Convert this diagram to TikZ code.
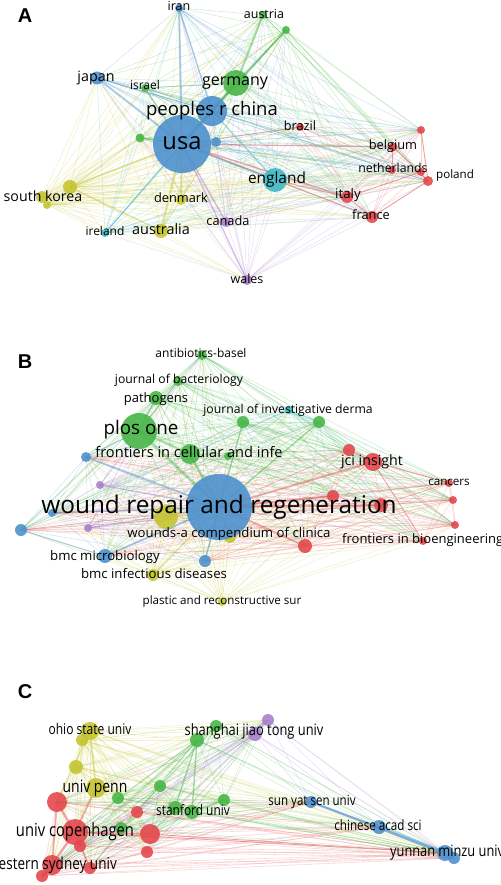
\documentclass[tikz,border=0pt]{standalone}
\usepackage{fontspec}
\setmainfont{Open Sans}
\newfontfamily\narrowfont[FakeStretch=0.82]{Open Sans}
\newfontfamily\letterfont{Liberation Sans}
\pgfdeclarelayer{links}
\pgfsetlayers{links,main}
\definecolor{vred}{RGB}{228,72,76}
\definecolor{vgreen}{RGB}{72,182,72}
\definecolor{vblue}{RGB}{78,145,205}
\definecolor{vyellow}{RGB}{196,196,48}
\definecolor{vpurple}{RGB}{168,128,205}
\definecolor{vcyan}{RGB}{62,184,198}
\newcommand{\fsz}[1]{\fontsize{#1}{#1}\selectfont}

\newcommand{\countries}{skorea/vyellow/70/187/14, skorea2/vyellow/42/197/12, skorea3/vyellow/47/205/8,
	denmark/vyellow/181/200/10, australia/vyellow/161/231/14, canada/vpurple/226/222/10, wales/vpurple/247/280/10,
	england/vcyan/275/180/24, ireland/vcyan/105/233/8, germany/vgreen/236/83/26, israel/vgreen/145/88/8,
	austria/vgreen/263/15/8, austria2/vgreen/286/30/8, gsmall/vgreen/140/138/9, usa/vblue/182/144/58,
	china/vblue/212/111/30, japan/vblue/97/78/13, iran/vblue/179/8/8, bsmall/vblue/216/142/10,
	brazil/vred/300/127/8, redtop/vred/421/130/8, belgium/vred/393/147/9, netherlands/vred/392/170/8,
	netherlands2/vred/421/172/8, poland/vred/428/181/10, italy/vred/347/197/12, france/vred/372/217/12}
\newcommand{\countrylinks}{usa/china/vblue/3, usa/japan/vblue/2, usa/iran/vblue/2, china/iran/vblue/1.5,
	usa/germany/vgreen/2.5, germany/austria/vgreen/2, germany/austria2/vgreen/2, usa/austria2/vgreen/1.5,
	china/germany/vgreen/2, usa/england/vcyan/2.5, usa/australia/vyellow/2.5, usa/skorea/vyellow/2,
	usa/denmark/vyellow/2, usa/ireland/vcyan/1.2, usa/canada/vpurple/1.5, usa/wales/vpurple/1.5,
	usa/italy/vred/1.5, usa/france/vred/1.2, usa/belgium/vred/1.2, usa/brazil/vred/1, england/italy/vred/1.2,
	italy/france/vred/1.2, belgium/netherlands/vred/1, china/england/vcyan/1.5, usa/gsmall/vgreen/1.5,
	usa/israel/vgreen/1.2, japan/china/vblue/1.2, skorea/australia/vyellow/1.5, israel/germany/vgreen/1,
	redtop/poland/vred/1, belgium/poland/vred/1, france/poland/vred/1, italy/netherlands2/vred/1}

\newcommand{\journals}{yel/vyellow/166/517/24, wcomp/vyellow/230/537/12, bmci/vyellow/153/575/12,
	plastic/vyellow/222/602/8, jpurple1/vpurple/100/485/8, jpurple2/vpurple/88/528/8, jidc/vcyan/289/410/8,
	plos/vgreen/139/431/36, fcell/vgreen/190/454/20, antib/vgreen/202/355/10,
	jbact/vgreen/178/381/10, pathog/vgreen/156/398/14, gsm/vgreen/228/456/8, jid1/vgreen/243/422/12,
	jid2/vgreen/319/422/12, jcir/vred/349/450/12, jci/vred/373/462/18, cancers/vred/449/483/8,
	jred2/vred/453/500/8, jred3/vred/455/525/8, fbio/vred/423/541/8, jred4/vred/333/496/12,
	jred5/vred/381/505/14, jred6/vred/305/546/14, wound/vblue/219/507/66, jblue1/vblue/86/457/10,
	jblue2/vblue/21/530/12, jblue3/vblue/52/513/8, bmcm/vblue/105/556/14, jblue4/vblue/205/561/12}
\newcommand{\journallinks}{wound/plos/vgreen/3, wound/fcell/vgreen/2.5, plos/fcell/vgreen/2.5,
	wound/yel/vyellow/3, wound/bmcm/vblue/2, wound/jblue1/vblue/2, wound/jblue4/vblue/1.5, wound/jci/vred/2,
	wound/jred5/vred/2, wound/jred6/vred/2, wound/jred4/vred/2, wound/wcomp/vyellow/1.5, plos/pathog/vgreen/1.5,
	plos/jbact/vgreen/1.2, wound/jid1/vgreen/1.5, wound/jid2/vgreen/1.5, wound/bmci/vyellow/1.5,
	wound/jpurple1/vpurple/1.2, wound/jpurple2/vpurple/1.2, jci/jcir/vred/1.2, wound/jblue3/vblue/1.5,
	jblue2/bmcm/vblue/1, jci/cancers/vred/0.8, jci/fbio/vred/0.8, jid2/jidc/vcyan/1, plos/jblue1/vblue/1}

\newcommand{\univs}{ohio/vyellow/90/731/18, uyel2/vyellow/82/740/12, uyel3/vyellow/76/767/14,
	penn/vyellow/96/788/20, ugrn1/vgreen/160/786/12, ugrn2/vgreen/118/798/12, ugrn3/vgreen/175/808/14,
	stanford/vgreen/192/812/14, ugrn4/vgreen/224/800/12, shanghai/vgreen/197/740/14, ugrn5/vgreen/216/726/12,
	ugrn6/vgreen/121/828/12, jiao1/vpurple/255/734/14, jiao2/vpurple/268/720/12, ured1/vred/57/802/20,
	cph/vred/75/832/26, ured2/vred/80/846/12, ured3/vred/150/834/20, ured4/vred/137/812/12, ured5/vred/147/852/12,
	wsu/vred/52/865/20, ured7/vred/42/876/12, ured8/vred/90/868/12, sun/vblue/311/802/12, cas/vblue/379/827/14,
	yun/vblue/445/853/16, yun2/vblue/454/858/12}
\newcommand{\univlinks}{cas/yun/vblue/4, sun/yun/vblue/2.5, sun/cas/vblue/2, cph/ured1/vred/2,
	cph/wsu/vred/2.5, cph/ured3/vred/2, penn/ohio/vyellow/2, penn/cph/vred/2, shanghai/stanford/vgreen/1.5,
	ured1/wsu/vred/2, ohio/ured1/vyellow/1.5, cph/ured8/vred/1.5, wsu/ured7/vred/1.5, shanghai/ugrn3/vgreen/1.5,
	stanford/ugrn4/vgreen/1.2, jiao1/jiao2/vpurple/1.5, ured3/yun/vred/0.8, cph/yun/vred/0.8}

\begin{document}
\begin{tikzpicture}[x=1pt, y=-1pt,
		item/.style 2 args={circle, fill=#1, fill opacity=0.9, inner sep=0pt, minimum size=#2pt},
		lbl/.style={inner sep=0pt, font=\fsz{#1}, text height={0.72*#1pt}, text depth={0.22*#1pt}},
		nlbl/.style={lbl=#1, font=\narrowfont\fsz{#1}},
		link/.style={line width=0.55pt, draw opacity=0.24},
		strong/.style={draw opacity=0.4},
		letter/.style={inner sep=0pt, font=\letterfont\bfseries\fsz{20}}]

	\useasboundingbox (0,0) rectangle (500,885);
	\clip (0,0) rectangle (500,885);

	\node[letter] (A) at (25,16) {A};
	\node[letter] (B) at (25,362) {B};
	\node[letter] (C) at (25,692) {C};

	\foreach \n/\c/\px/\py/\d in \countries
		\node[item={\c}{\d}] (\n) at (\px,\py) {};
	\foreach \n/\c/\px/\py/\d in \journals
		\node[item={\c}{\d}] (\n) at (\px,\py) {};
	\foreach \n/\c/\px/\py/\d in \univs
		\node[item={\c}{\d}] (\n) at (\px,\py) {};

	\begin{pgfonlayer}{links}
		\foreach \a/\ca/\xa/\ya/\da [count=\i] in \countries
			\foreach \b/\cb/\xb/\yb/\db [count=\j] in \countries
				{\ifnum\j>\i \draw[link, color=\ca] (\a.center) -- (\b.center); \fi}
		\foreach \a/\ca/\xa/\ya/\da [count=\i] in \journals
			\foreach \b/\cb/\xb/\yb/\db [count=\j] in \journals
				{\ifnum\j>\i \draw[link, color=\ca] (\a.center) -- (\b.center); \fi}
		\foreach \a/\ca/\xa/\ya/\da [count=\i] in \univs
			\foreach \b/\cb/\xb/\yb/\db [count=\j] in \univs
				{\ifnum\j>\i \draw[link, color=\ca] (\a.center) -- (\b.center); \fi}
		\foreach \a/\b/\c/\w in \countrylinks
			\draw[strong, color=\c, line width=\w pt] (\a.center) -- (\b.center);
		\foreach \a/\b/\c/\w in \journallinks
			\draw[strong, color=\c, line width=\w pt] (\a.center) -- (\b.center);
		\foreach \a/\b/\c/\w in \univlinks
			\draw[strong, color=\c, line width=\w pt] (\a.center) -- (\b.center);
	\end{pgfonlayer}

	\foreach \n/\px/\py/\s/\t in {iran/179/7/12.5/iran, austria/264/15/12.5/austria, japan/96/78/14.3/japan,
			israel/145/87/12/israel, germany/235/82/16/germany, china/212/111/18.5/peoples r china,
			usa/182/144/23.7/usa, skorea/43/198/14.2/south korea, denmark/181/199/12.8/denmark,
			australia/161/231/14.4/australia, ireland/105/233/12/ireland, canada/228/222/12.8/canada,
			wales/247/280/12.5/wales, england/277/180/15.4/england, brazil/300/127/12.7/brazil,
			belgium/393/146/12.8/belgium, netherlands/393/169/12.3/netherlands, poland/455/176/11.6/poland,
			italy/348/195/13.3/italy, france/371/216/12.8/france}
		\node[lbl=\s] (l-\n) at (\px,\py) {\t};

	\foreach \n/\px/\py/\s/\t in {antib/201/354/12/antibiotics-basel, jbact/179/380/12.2/journal of bacteriology,
			pathog/156/399/13/pathogens, plos/141/430/18.8/plos one, fcell/189/454/14.6/frontiers in cellular and infe,
			jid/288/410/12.2/journal of investigative derma, jci/372/462/14.2/jci insight, cancers/449/483/11.6/cancers,
			wound/219/507/24.4/wound repair and regeneration, wcomp/229/534/13.2/wounds-a compendium of clinica,
			bmcm/105/557/13.2/bmc microbiology, bmci/154/575/13.2/bmc infectious diseases,
			plastic/222/602/11.6/plastic and reconstructive sur}
		\node[lbl=\s] (l-\n) at (\px,\py) {\t};
	\node[lbl=13, anchor=west] (l-fbio) at (342,540) {frontiers in bioengineering an};

	\foreach \n/\px/\py/\s/\t in {ohio/90/731/14.7/ohio state univ, penn/95/788/17/univ penn,
			stanford/193/812/14.5/stanford univ, shanghai/254/732/15.7/shanghai jiao tong univ,
			cph/75/832/18/univ copenhagen, sun/312/802/14.1/sun yat sen univ, cas/378/827/14.2/chinese acad sci}
		\node[nlbl=\s] (l-\n) at (\px,\py) {\t};
	\node[nlbl=16.5, anchor=east] (l-wsu) at (117,865) {western sydney univ};
	\node[nlbl=15.6, anchor=west] (l-yun) at (390,853) {yunnan minzu univ};
\end{tikzpicture}
\end{document}
